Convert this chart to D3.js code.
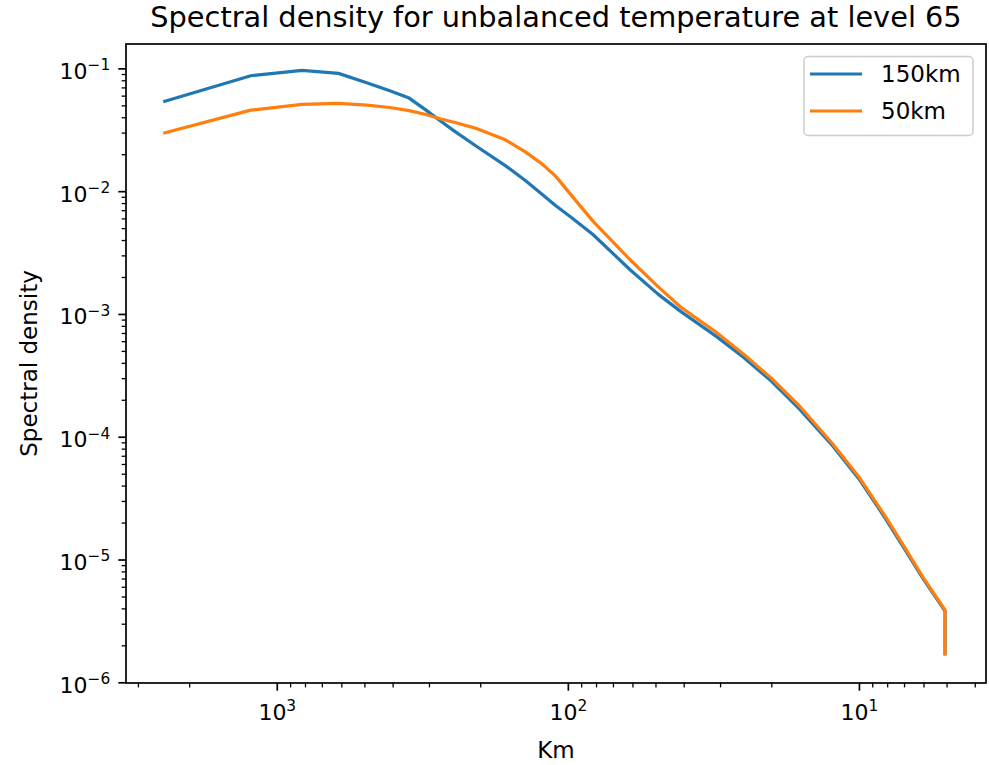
<!DOCTYPE html>
<html>
<head>
<meta charset="utf-8">
<script src="https://cdn.jsdelivr.net/npm/d3@7"></script>
<style>
  body { margin: 0; background: #fff; }
  svg text { font-family: "DejaVu Sans", sans-serif; fill: #000; }
</style>
</head>
<body>
<div id="chart"></div>
<script>
// wavelength in km (x) and spectral density of the two runs
const km = [2455, 1228, 818, 614, 491, 409, 351, 307, 273, 246, 205, 164, 140, 123, 110, 98, 82,
            61, 49, 41, 31, 25, 20, 16, 12.3, 10, 8.2, 7, 6, 5.06, 5.06];
const run150 = [0.0535, 0.0871, 0.0963, 0.0911, 0.0763, 0.0658, 0.0573, 0.0457, 0.0371, 0.0310,
                0.0230, 0.01615, 0.0122, 0.0095, 0.0076, 0.00619, 0.00444, 0.00228, 0.00145, 0.00105, 0.00066,
                0.000446, 0.000284, 0.000168, 8.4e-5, 4.53e-5, 2.25e-5, 1.24e-5, 6.9e-6, 3.8e-6, 1.65e-6];
const run50 = [0.0296, 0.0457, 0.0509, 0.0519, 0.0502, 0.0480, 0.0453, 0.0421, 0.0387, 0.0364,
               0.0323, 0.0262, 0.0209, 0.01675, 0.0132, 0.00946, 0.0057, 0.00275, 0.00167, 0.00114, 0.000713,
               0.000475, 0.0003, 0.000178, 8.73e-5, 4.7e-5, 2.33e-5, 1.28e-5, 7.06e-6, 3.88e-6, 1.67e-6];
const seriesNames = ["150km", "50km"];
const seriesColors = ["#1f77b4", "#ff7f0e"];

const xMajor = [1000, 100, 10];
const yMajor = [1e-1, 1e-2, 1e-3, 1e-4, 1e-5, 1e-6];

const W = 989, H = 765;
const margin = {top: 44, right: 3, bottom: 82, left: 126};
const width = W - margin.left - margin.right;
const height = H - margin.top - margin.bottom;

const svg = d3.select("#chart")
  .append("svg")
    .attr("width", W)
    .attr("height", H);

const g = svg.append("g")
    .attr("transform", `translate(${margin.left}, ${margin.top})`);

// x is reversed: large wavelengths on the left
const xScale = d3.scaleLog().domain([3296, 3.66]).range([0, width]);
const yScale = d3.scaleLog().domain([9.87e-7, 0.158]).range([height, 0]);

// minor ticks 2..9 per decade inside the domain
function minorTicks(scale) {
  const [a, b] = d3.extent(scale.domain());
  const out = [];
  for (let e = Math.floor(Math.log10(a)); e <= Math.ceil(Math.log10(b)); e++) {
    for (let m = 2; m <= 9; m++) {
      const v = m * Math.pow(10, e);
      if (v >= a && v <= b) out.push(v);
    }
  }
  return out;
}

function powLabel(sel) {
  sel.each(function(d) {
    const t = d3.select(this);
    const e = Math.round(Math.log10(d));
    t.text("10");
    t.append("tspan")
      .attr("dy", "-0.55em")
      .attr("font-size", "0.7em")
      .text(String(e).replace("-", "\u2212"));
  });
}

// x axis
const gx = g.append("g").attr("transform", `translate(0, ${height})`);
gx.append("g")
  .call(d3.axisBottom(xScale).tickValues(minorTicks(xScale)).tickSize(4.4).tickFormat(""))
  .call(s => s.select(".domain").remove())
  .selectAll("line").attr("stroke-width", 1.3);
gx.append("g")
  .call(d3.axisBottom(xScale).tickValues(xMajor).tickSize(7.7).tickPadding(8))
  .call(s => s.select(".domain").remove())
  .call(s => s.selectAll("line").attr("stroke-width", 1.7))
  .selectAll("text")
    .attr("font-size", 22)
    .attr("dy", "0.95em")
    .call(powLabel);

// y axis
const gy = g.append("g");
gy.append("g")
  .call(d3.axisLeft(yScale).tickValues(minorTicks(yScale)).tickSize(4.4).tickFormat(""))
  .call(s => s.select(".domain").remove())
  .selectAll("line").attr("stroke-width", 1.3);
gy.append("g")
  .call(d3.axisLeft(yScale).tickValues(yMajor).tickSize(7.7).tickPadding(8))
  .call(s => s.select(".domain").remove())
  .call(s => s.selectAll("line").attr("stroke-width", 1.7))
  .selectAll("text")
    .attr("font-size", 22)
    .attr("dy", "0.45em")
    .call(powLabel);

// lines
const line = d3.line()
  .x((d, i) => xScale(km[i]))
  .y(d => yScale(d));

[run150, run50].forEach((s, i) => {
  g.append("path")
    .datum(s)
    .attr("fill", "none")
    .attr("stroke", seriesColors[i])
    .attr("stroke-width", 3.2)
    .attr("stroke-linejoin", "round")
    .attr("d", line);
});

// frame
g.append("rect")
  .attr("width", width)
  .attr("height", height)
  .attr("fill", "none")
  .attr("stroke", "#000")
  .attr("stroke-width", 1.7);

// legend
const legend = g.append("g").attr("transform", `translate(${width - 182}, 12.5)`);
legend.append("rect")
  .attr("width", 169)
  .attr("height", 79)
  .attr("rx", 4)
  .attr("fill", "#fff")
  .attr("fill-opacity", 0.8)
  .attr("stroke", "#ccc")
  .attr("stroke-width", 1.5);
seriesNames.forEach((name, i) => {
  const y = 17.5 + i * 37;
  legend.append("line")
    .attr("x1", 6).attr("x2", 58)
    .attr("y1", y).attr("y2", y)
    .attr("stroke", seriesColors[i])
    .attr("stroke-width", 3.2);
  legend.append("text")
    .attr("x", 77)
    .attr("y", y + 8)
    .attr("font-size", 23)
    .text(name);
});

// title and axis labels
svg.append("text")
  .attr("x", margin.left + width / 2)
  .attr("y", 27)
  .attr("text-anchor", "middle")
  .attr("font-size", 28.8)
  .text("Spectral density for unbalanced temperature at level 65");

svg.append("text")
  .attr("x", margin.left + width / 2)
  .attr("y", 758)
  .attr("text-anchor", "middle")
  .attr("font-size", 23)
  .text("Km");

svg.append("text")
  .attr("transform", `translate(37, ${margin.top + height / 2}) rotate(-90)`)
  .attr("text-anchor", "middle")
  .attr("font-size", 23)
  .text("Spectral density");
</script>
</body>
</html>
